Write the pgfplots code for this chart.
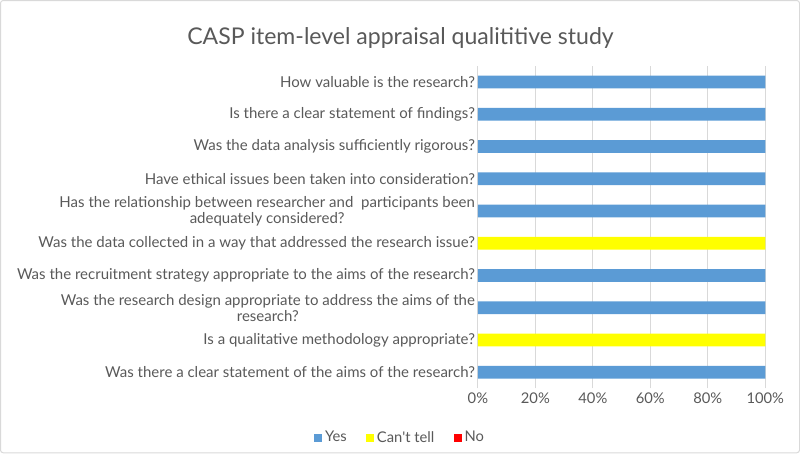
\documentclass[border=0pt]{standalone}
\usepackage{pgfplots}
\pgfplotsset{compat=1.18}
\usepackage{fontspec}
\setmainfont{Lato}
\definecolor{txt}{HTML}{595959}
\definecolor{grid}{HTML}{D9D9D9}
\definecolor{cblue}{HTML}{5B9BD5}
\definecolor{cyellow}{HTML}{FFFF00}
\definecolor{cred}{HTML}{FF0000}
\begin{document}
\begin{tikzpicture}[x=0.75pt,y=0.75pt]
\draw[draw=grid, line width=0.75pt, rounded corners=2pt] (2,-2) rectangle (797,-452);
\node[text=txt, font=\fontsize{17.2}{20}\selectfont] at (400,-39) {CASP item-level appraisal qualititive study};
\begin{axis}[
  at={(477pt*0.75,-388pt*0.75)}, anchor=south west,
  width=214.5pt, height=240.75pt, scale only axis,
  xbar stacked, bar width=9.5pt,
  xmin=0, xmax=100, ymin=-0.5, ymax=9.5,
  xtick={0,20,...,100},
  xticklabel={\pgfmathprintnumber{\tick}\%},
  ytick={0,...,9},
  yticklabels={
    Was there a clear statement of the aims of the research?,
    Is a qualitative methodology appropriate?,
    {Was the research design appropriate to address the aims of the\\research?},
    Was the recruitment strategy appropriate to the aims of the research?,
    Was the data collected in a way that addressed the research issue?,
    {Has the relationship between researcher and\ \ participants been\\adequately considered?},
    Have ethical issues been taken into consideration?,
    Was the data analysis sufficiently rigorous?,
    Is there a clear statement of findings?,
    How valuable is the research?},
  yticklabel style={align=center, text=txt, font=\fontsize{11.2}{11.6}\selectfont, inner sep=2pt},
  xticklabel style={text=txt, font=\fontsize{11}{12}\selectfont},
  /pgf/number format/assume math mode=true,
  axis line style={draw=none},
  major tick length=0pt,
  xmajorgrids, grid style={draw=grid, line width=0.75pt},
  legend style={at={(400pt*0.75-477pt*0.75,-49pt*0.75)}, anchor=center, draw=none, legend columns=-1,
    font=\fontsize{11}{12}\selectfont, text=txt,
    /tikz/every odd column/.append style={column sep=0pt},
    /tikz/every even column/.append style={column sep=12.5pt}},
  legend image code/.code={\fill[#1] (0pt,-3pt) rectangle (6pt,3pt);},
]
\addplot[fill=cblue, draw=none] coordinates {(100,0) (0,1) (100,2) (100,3) (0,4) (100,5) (100,6) (100,7) (100,8) (100,9)};
\addplot[fill=cyellow, draw=none] coordinates {(0,0) (100,1) (0,2) (0,3) (100,4) (0,5) (0,6) (0,7) (0,8) (0,9)};
\addplot[fill=cred, draw=none] coordinates {(0,0) (0,1) (0,2) (0,3) (0,4) (0,5) (0,6) (0,7) (0,8) (0,9)};
\legend{Yes, Can\textquotesingle t tell, No}
\end{axis}
\end{tikzpicture}
\end{document}
